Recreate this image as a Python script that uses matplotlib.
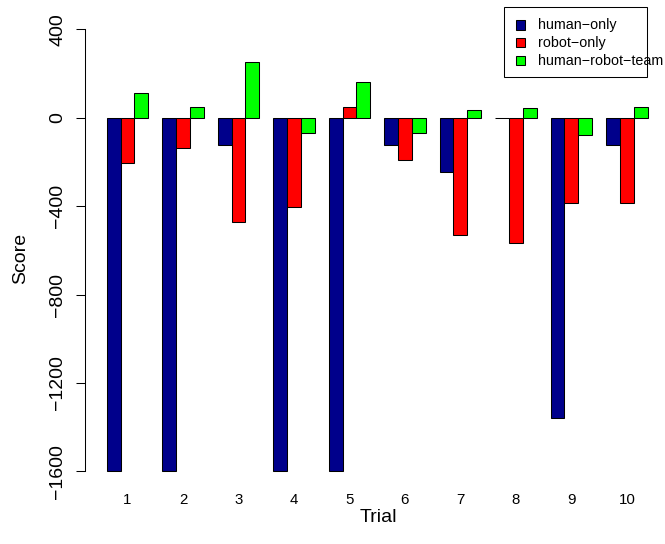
import numpy as np
import matplotlib
matplotlib.use('Agg')
import matplotlib.pyplot as plt
from matplotlib.patches import Rectangle

plt.rcParams['font.family'] = ['Liberation Sans', 'DejaVu Sans']

trials = ['1', '2', '3', '4', '5', '6', '7', '8', '9', '10']
series_names = ['human\u2212only', 'robot\u2212only', 'human\u2212robot\u2212team']
human_only = [-1600, -1600, -125, -1600, -1600, -125, -245, 0, -1360, -125]
robot_only = [-205, -135, -470, -405, 50, -190, -530, -565, -385, -385]
human_robot_team = [110, 50, 250, -70, 160, -70, 35, 45, -80, 50]
colors = ['#00008B', '#FF0000', '#00FF00']
yticks = [-1600, -1200, -800, -400, 0, 400]

W, H = 665, 544
fig = plt.figure(figsize=(W / 100, H / 100), dpi=100)


def fpx(x, y):
    # pixel position (from top-left) -> figure fraction
    return x / W, 1 - y / H


ax = fig.add_axes([85.1 / W, (H - 489) / H, 1 - 85.1 / W, 489 / H])

# R style barplot: groups of 3 bars width 1, 1 unit gap between groups
series = [human_only, robot_only, human_robot_team]
group_left = 1 + 4 * np.arange(len(trials))
for k, vals in enumerate(series):
    ax.bar(group_left + k, vals, width=1, align='edge', color=colors[k],
           edgecolor='black', linewidth=0.75)

ax.set_xlim(-0.557, 41.25)
ax.set_ylim(-1680, 532.6)

for s in ['top', 'right', 'bottom']:
    ax.spines[s].set_visible(False)
ax.spines['left'].set_bounds(-1600, 400)
ax.spines['left'].set_linewidth(0.75)

ax.set_yticks(yticks)
ax.tick_params(axis='y', direction='out', length=6.2, width=0.75,
               labelsize=14, pad=7.2, labelrotation=90)
for lab in ax.get_yticklabels():
    lab.set_va('center')

ax.set_xticks(group_left + 1.5)
ax.set_xticklabels(trials)
ax.tick_params(axis='x', length=0, labelsize=10.8, pad=3.1)

fig.text(*fpx(20.8, 258), 'Score', rotation=90, ha='center', va='center', fontsize=14)
fig.text(*fpx(378, 518), 'Trial', ha='center', va='center', fontsize=14)

# legend drawn like R's (text runs past the box edge)
bx0, by0, bx1, by1 = 504, 7.3, 647.3, 76.7
x0, y0 = fpx(bx0, by1)
fig.patches.append(Rectangle((x0, y0), (bx1 - bx0) / W, (by1 - by0) / H,
                             transform=fig.transFigure, fill=False,
                             edgecolor='black', linewidth=0.75))
rows_y = [25, 42.7, 60.7]
for name, c, ry in zip(series_names, colors, rows_y):
    sx, sy = fpx(516, ry + 4.65)
    fig.patches.append(Rectangle((sx, sy), 9.3 / W, 9.3 / H,
                                 transform=fig.transFigure, facecolor=c,
                                 edgecolor='black', linewidth=0.75))
    fig.text(*fpx(538.3, ry), name, ha='left', va='center', fontsize=10.3)

fig.savefig('out.png', dpi=100)
